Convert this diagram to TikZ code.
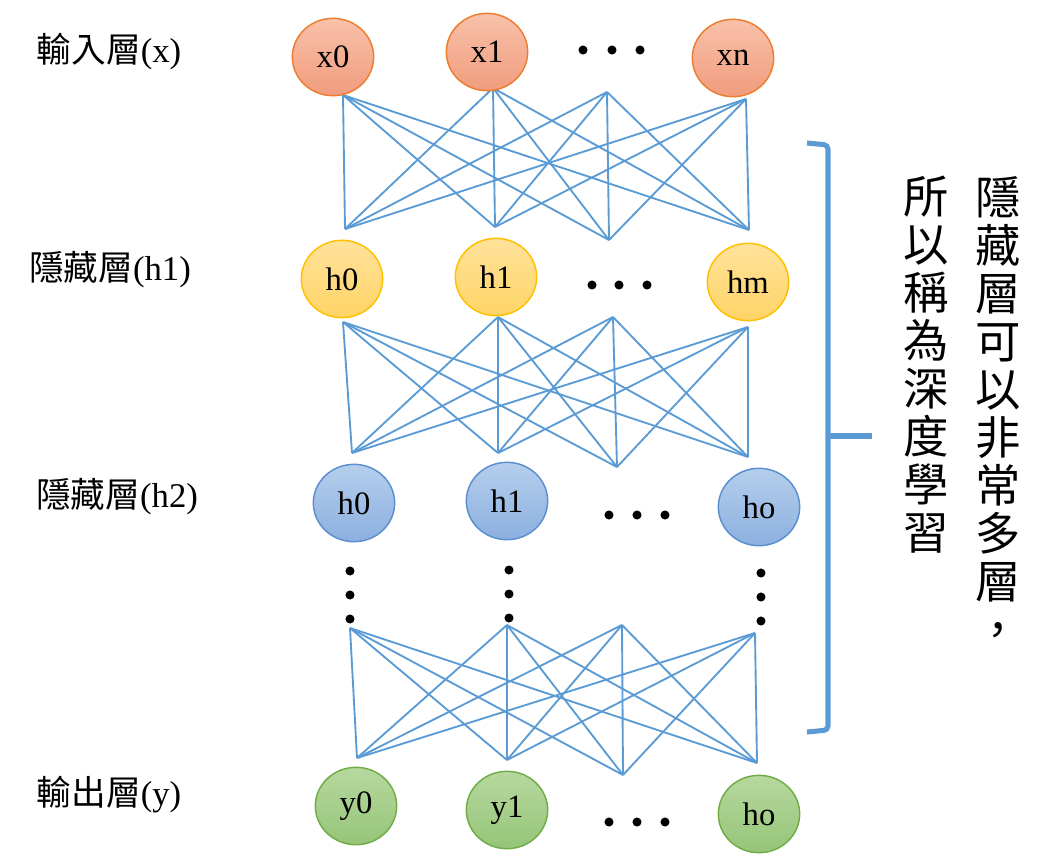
\documentclass[tikz,border=0pt]{standalone}
\usepackage{fontspec}
\setmainfont{Liberation Serif}
\newfontfamily\cjk{Noto Sans CJK TC}
\usetikzlibrary{shapes.geometric}
\definecolor{linkblue}{HTML}{5B9BD5}
\definecolor{inedge}{HTML}{ED7D31}
\definecolor{intop}{HTML}{F8C1A9}
\definecolor{inbot}{HTML}{F19C7E}
\definecolor{hoedge}{HTML}{FFC000}
\definecolor{hotop}{HTML}{FFE29B}
\definecolor{hobot}{HTML}{FFD466}
\definecolor{htedge}{HTML}{5B8FD0}
\definecolor{httop}{HTML}{B5CEEC}
\definecolor{htbot}{HTML}{8CB0E0}
\definecolor{outedge}{HTML}{70AD47}
\definecolor{outtop}{HTML}{B7D89F}
\definecolor{outbot}{HTML}{95C578}

\begin{document}
\begin{tikzpicture}
[x=0.75pt,y=-0.75pt,%
  neuron/.style={shape=ellipse,line width=1.1pt,minimum width=61pt,minimum height=58pt,inner sep=0pt,font=\fontsize{24.5}{24.5}\selectfont},%
  inlayer/.style={neuron,draw=inedge,top color=intop,bottom color=inbot},%
  hidone/.style={neuron,draw=hoedge,top color=hotop,bottom color=hobot},%
  hidtwo/.style={neuron,draw=htedge,top color=httop,bottom color=htbot},%
  outlayer/.style={neuron,draw=outedge,top color=outtop,bottom color=outbot},%
  link/.style={draw=linkblue,line width=1.4pt},%
  layername/.style={inner sep=0pt,font=\fontsize{26}{26}\selectfont},%
  vtext/.style={inner sep=0pt,align=center,font=\cjk\fontsize{34}{36}\selectfont}]
\useasboundingbox (0,0) rectangle (1054,868);

% end points of the links
\coordinate (a0) at (343,95);  \coordinate (b0) at (345,229);
\coordinate (a1) at (493,88);  \coordinate (b1) at (495,227);
\coordinate (a2) at (607,92);  \coordinate (b2) at (609,240);
\coordinate (a3) at (746,99);  \coordinate (b3) at (749,230);
\coordinate (c0) at (343,322); \coordinate (d0) at (352,453);
\coordinate (c1) at (498,317); \coordinate (d1) at (498,453);
\coordinate (c2) at (613,317); \coordinate (d2) at (617,467);
\coordinate (c3) at (748,327); \coordinate (d3) at (748,457);
\coordinate (e0) at (350,628); \coordinate (f0) at (357,758);
\coordinate (e1) at (507,625); \coordinate (f1) at (507,760);
\coordinate (e2) at (622,625); \coordinate (f2) at (623,775);
\coordinate (e3) at (755,633); \coordinate (f3) at (757,763);

\foreach \i in {0,...,3}
  \foreach \j in {0,...,3} {
    \draw[link] (a\i) -- (b\j);
    \draw[link] (c\i) -- (d\j);
    \draw[link] (e\i) -- (f\j);
  }

% layers
\node[inlayer] (x0) at (333,57) {x0};
\node[inlayer] (x1) at (487,52) {x1};
\node[inlayer] (xn) at (733,58) {xn};

\node[hidone] (h10) at (342,279) {h0};
\node[hidone] (h11) at (496,277) {h1};
\node[hidone] (h1m) at (748,282) {hm};

\node[hidtwo] (h20) at (354,503) {h0};
\node[hidtwo] (h21) at (507,501) {h1};
\node[hidtwo] (h2o) at (759,507) {ho};

\node[outlayer] (y0) at (356,806) {y0};
\node[outlayer] (y1) at (507,810) {y1};
\node[outlayer] (yo) at (759,814) {ho};

% dots
\foreach \x/\y in {583/50,612/50,640/50, 592/285,619/285,647/285,
                   609/515,637/515,665/515, 609/822,637/822,665/822,
                   350/571,350/595,350/619, 509/570,509/594,509/618,
                   761/573,761/597,761/621}
  \fill (\x,\y) circle (3.4pt);

% layer names
\node[layername] (lx) at (109,52) {{\cjk 輸入層}(x)};
\node[layername] (lh1) at (110,270) {{\cjk 隱藏層}(h1)};
\node[layername] (lh2) at (117,497) {{\cjk 隱藏層}(h2)};
\node[layername] (ly) at (109,795) {{\cjk 輸出層}(y)};

% brace
\draw[linkblue,line width=3.8pt,rounded corners=3pt] (807,143) -- (828,145) -- (828,730) -- (807,732);
\draw[linkblue,line width=3.8pt] (828,436) -- (872,436);

\node[vtext,anchor=north] (deep) at (998,176) {隱\\藏\\層\\可\\以\\非\\常\\多\\層\\，};
\node[vtext,anchor=north] (why) at (926,176) {所\\以\\稱\\為\\深\\度\\學\\習};
\end{tikzpicture}
\end{document}
